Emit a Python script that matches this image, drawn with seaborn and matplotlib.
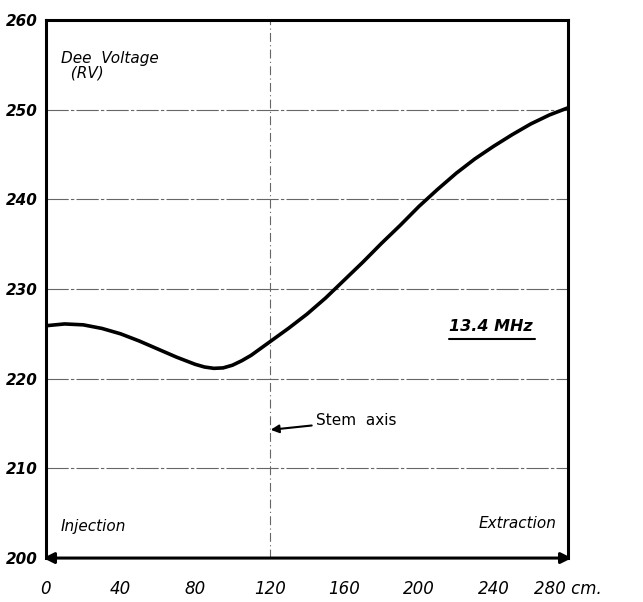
import seaborn as sns
import matplotlib.pyplot as plt
import pandas as pd

# Data (dee voltage vs radius)
radius_cm = [0, 10, 20, 30, 40, 50, 60, 70, 80, 85, 90, 95, 100, 105, 110,
             120, 130, 140, 150, 160, 170, 180, 190, 200, 210, 220, 230, 240,
             250, 260, 270, 280]
dee_voltage_kv = [225.9, 226.1, 226.0, 225.6, 225.0, 224.2, 223.3, 222.4, 221.6,
                  221.3, 221.15, 221.2, 221.5, 222.0, 222.6, 224.1, 225.6, 227.2,
                  229.0, 231.0, 233.0, 235.1, 237.1, 239.2, 241.1, 242.9, 244.5,
                  245.9, 247.2, 248.4, 249.4, 250.2]
x_ticks = [0, 40, 80, 120, 160, 200, 240, 280]
x_tick_labels = ['0', '40', '80', '120', '160', '200', '240', '280 cm.']
y_ticks = [200, 210, 220, 230, 240, 250, 260]
grid_levels = [210, 220, 230, 240, 250]
stem_x = 120

df = pd.DataFrame({'radius': radius_cm, 'voltage': dee_voltage_kv})

sns.set_style("white")
plt.rcParams['font.family'] = ['DejaVu Sans']
plt.rcParams['text.color'] = 'black'
plt.rcParams['xtick.color'] = 'black'
plt.rcParams['ytick.color'] = 'black'

fig = plt.figure(figsize=(6.43, 6.02), dpi=100)
ax = fig.add_axes([0.0715, 0.073, 0.812, 0.894])

# grid lines (thin, broken like a hand drawing)
for g in grid_levels:
  ax.axhline(g, color='#666666', lw=0.8, ls=(0, (20, 2, 3, 2)), zorder=1)
ax.axvline(stem_x, color='#666666', lw=0.8, ls=(0, (8, 3, 1, 3)), zorder=1)

sns.lineplot(data=df, x='radius', y='voltage', ax=ax, color='black',
             linewidth=2.6, zorder=3)
ax.lines[-1].set_solid_joinstyle('round')

ax.set_xlim(0, 280)
ax.set_ylim(200, 260)
ax.set_xlabel('')
ax.set_ylabel('')

ax.set_xticks(x_ticks)
ax.set_xticklabels(x_tick_labels, fontsize=12, style='italic')
ax.set_yticks(y_ticks)
ax.set_yticklabels([str(t) for t in y_ticks], fontsize=11, style='italic',
                   fontweight='bold')
ax.tick_params(axis='x', length=3, width=1.5, direction='inout', pad=14)
ax.tick_params(axis='y', length=0, pad=6)

for side in ['left', 'right', 'top']:
  ax.spines[side].set_linewidth(2.2)
  ax.spines[side].set_color('black')
ax.spines['bottom'].set_visible(False)

# bottom axis drawn as a double arrow
ax.annotate('', xy=(-1.5, 200), xytext=(282, 200),
            arrowprops=dict(arrowstyle='<|-|>', color='black', lw=2.2,
                            mutation_scale=16, shrinkA=0, shrinkB=0),
            annotation_clip=False)

# annotations
ax.text(8, 256.5, 'Dee  Voltage\n  (RV)', fontsize=11, style='italic',
        va='top', ha='left', linespacing=0.9)
ax.text(216, 225.8, '13.4 MHz', fontsize=11.5, style='italic',
        fontweight='bold', ha='left', va='center')
ax.plot([216, 262], [224.4, 224.4], color='black', lw=1.5)
ax.text(8, 203.5, 'Injection', fontsize=11, style='italic', ha='left',
        va='center')
ax.text(274, 203.8, 'Extraction', fontsize=11, style='italic', ha='right',
        va='center')
ax.annotate('Stem  axis', xy=(120.5, 214.3), xytext=(145, 215.3),
            fontsize=11, ha='left', va='center',
            arrowprops=dict(arrowstyle='-|>', color='black', lw=1.5,
                            shrinkA=1, shrinkB=0, mutation_scale=12))

plt.savefig('out.png', dpi=100)
plt.close()
